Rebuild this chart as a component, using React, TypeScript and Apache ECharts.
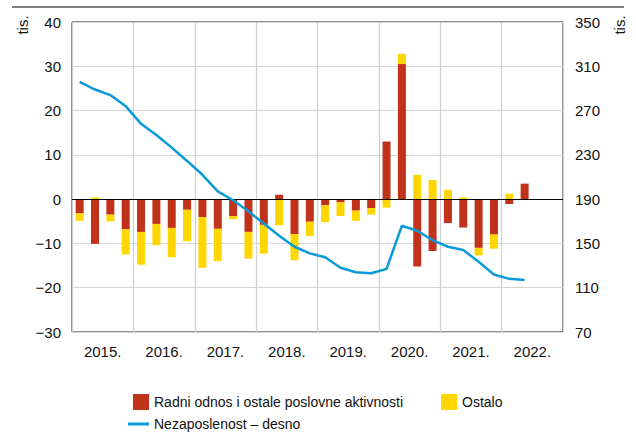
import React, { useEffect, useRef } from "react";
import * as echarts from "echarts";

const quarters: string[] = [];
const years = ["2015.", "2016.", "2017.", "2018.", "2019.", "2020.", "2021.", "2022."];
for (const y of [2015, 2016, 2017, 2018, 2019, 2020, 2021, 2022]) {
  for (const q of [1, 2, 3, 4]) quarters.push(`${y} Q${q}`);
}

const radniOdnos = [
  -3.2, -10.1, -3.5, -6.8,
  -7.4, -5.6, -6.5, -2.4,
  -4.1, -6.7, -3.8, -7.4,
  -5.8, 1.0, -7.9, -5.1,
  -1.4, -0.7, -2.6, -2.0,
  13.0, 30.5, -15.2, -11.7,
  -5.4, -6.4, -11.0, -8.0,
  -1.1, 3.5,
];
const ostalo = [
  -1.7, 0.4, -1.5, -5.7,
  -7.4, -4.8, -6.6, -7.1,
  -11.4, -7.3, -0.7, -6.0,
  -6.5, -5.9, -5.9, -3.2,
  -3.8, -3.1, -2.3, -1.5,
  -1.9, 2.3, 5.5, 4.3,
  2.1, 0.4, -1.7, -3.2,
  1.2, 0,
];
const nezaposlenost = [
  296, 289, 284, 274,
  258, 248, 236.5, 224.5,
  212, 197, 189, 179,
  168, 157, 147, 141,
  137.5, 128, 124, 123,
  127, 166, 161.5, 153,
  147, 144, 133.5, 122,
  118, 117,
];

const leftTicks = { min: -30, max: 40, interval: 10 };
const rightTicks = { min: 70, max: 350, interval: 40 };

const FONT = "Liberation Sans, Arial, sans-serif";
const RED = "#C1321B";
const YELLOW = "#FFD600";
const BLUE = "#0A9AD8";
const NAME_RED = "Radni odnos i ostale poslovne aktivnosti";
const NAME_YEL = "Ostalo";
const NAME_LINE = "Nezaposlenost – desno";

export default function App() {
  const ref = useRef<HTMLDivElement>(null);
  useEffect(() => {
    if (!ref.current) return;
    const chart = echarts.init(ref.current, null, { renderer: "svg" });
    const minus = (v: number) => String(v).replace("-", "−");
    chart.setOption({
      animation: false,
      backgroundColor: "#fff",
      textStyle: { fontFamily: FONT },
      grid: {
        left: 72, right: 73, top: 22, bottom: 102,
        show: true, borderColor: "#222", borderWidth: 1, backgroundColor: "transparent",
      },
      legend: [
        {
          left: 133, top: 394, padding: 0, itemWidth: 16, itemHeight: 16, itemGap: 38,
          data: [
            { name: NAME_RED, icon: "rect" },
            { name: NAME_YEL, icon: "rect" },
          ],
          textStyle: { fontSize: 14, color: "#111", fontFamily: FONT },
        },
        {
          left: 128, top: 417, padding: 0, itemWidth: 21, itemHeight: 3,
          data: [{ name: NAME_LINE, icon: "rect" }],
          textStyle: { fontSize: 14, color: "#111", fontFamily: FONT },
        },
      ],
      graphic: [
        { type: "line", shape: { x1: 12, y1: 7, x2: 624, y2: 7 }, style: { stroke: "#555", lineWidth: 1.5 } },
        {
          type: "text", x: 22, y: 25, rotation: Math.PI / 2,
          style: { text: "tis.", fontSize: 15, fill: "#111", fontFamily: FONT, textAlign: "center", textVerticalAlign: "middle" },
        },
        {
          type: "text", x: 619, y: 25, rotation: Math.PI / 2,
          style: { text: "tis.", fontSize: 15, fill: "#111", fontFamily: FONT, textAlign: "center", textVerticalAlign: "middle" },
        },
      ],
      xAxis: [
        {
          type: "category", data: quarters, boundaryGap: true,
          axisLine: { show: false }, axisTick: { show: false }, axisLabel: { show: false },
          splitLine: { show: true, interval: 3, lineStyle: { color: "#cfcfcf", width: 1.2 } },
        },
        {
          type: "category", data: years, boundaryGap: true, position: "bottom",
          axisLine: { show: false }, axisTick: { show: false },
          axisLabel: { fontSize: 15, color: "#111", margin: 12, fontFamily: FONT },
          splitLine: { show: false },
        },
      ],
      yAxis: [
        {
          type: "value", position: "left", ...leftTicks,
          axisLine: { show: false }, axisTick: { show: false },
          axisLabel: { fontSize: 15, color: "#111", margin: 11, formatter: minus, fontFamily: FONT },
          splitLine: { show: true, lineStyle: { color: "#d6d6d6", width: 1.2 } },
        },
        {
          type: "value", position: "right", ...rightTicks,
          axisLine: { show: false }, axisTick: { show: false },
          axisLabel: { fontSize: 15, color: "#111", margin: 12, fontFamily: FONT },
          splitLine: { show: false },
        },
      ],
      series: [
        {
          name: NAME_RED, type: "bar", stack: "s", xAxisIndex: 0, yAxisIndex: 0,
          data: radniOdnos, barWidth: 8, itemStyle: { color: RED },
          markLine: {
            silent: true, symbol: "none", label: { show: false },
            lineStyle: { color: "#000", type: "solid", width: 1 },
            data: [{ yAxis: 0 }],
          },
        },
        {
          name: NAME_YEL, type: "bar", stack: "s", xAxisIndex: 0, yAxisIndex: 0,
          data: ostalo, barWidth: 8, itemStyle: { color: YELLOW },
        },
        {
          name: NAME_LINE, type: "line", xAxisIndex: 0, yAxisIndex: 1,
          data: nezaposlenost, symbol: "none", smooth: false,
          lineStyle: { color: BLUE, width: 2.5 }, itemStyle: { color: BLUE }, z: 5,
        },
      ],
    });
    return () => chart.dispose();
  }, []);
  return <div ref={ref} style={{ position: "fixed", left: 0, top: 0, width: 636, height: 434 }} />;
}
